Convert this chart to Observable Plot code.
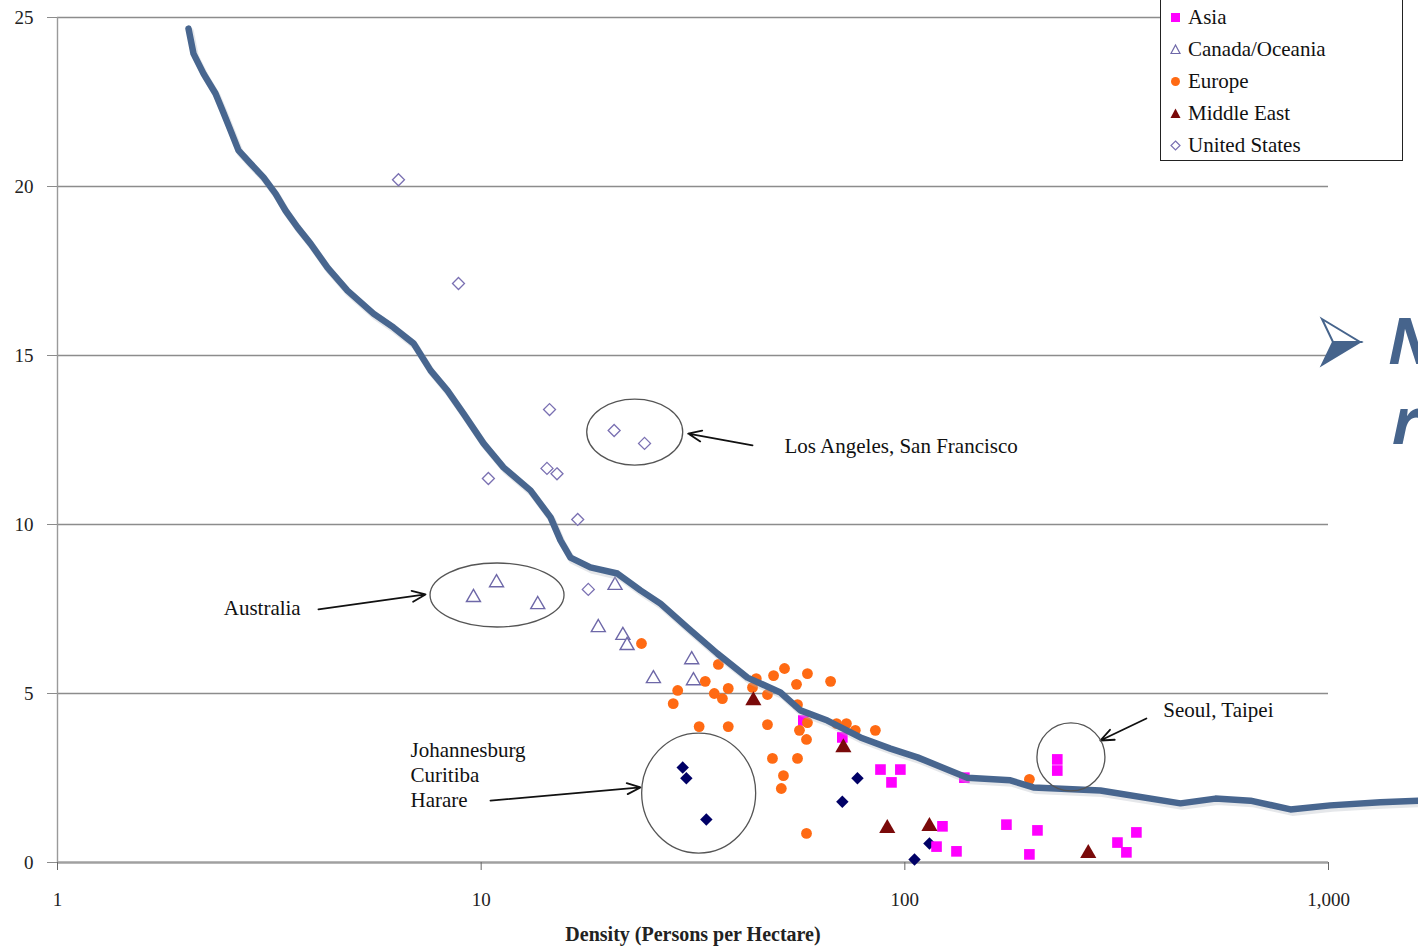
<!DOCTYPE html>
<html><head><meta charset="utf-8">
<script src="https://cdn.jsdelivr.net/npm/d3@7"></script>
<script src="https://cdn.jsdelivr.net/npm/@observablehq/plot@0.6"></script>
<style>
body{margin:0;background:#fff;overflow:hidden}
#wrap{position:relative;width:1418px;height:948px;overflow:hidden;font-family:"Liberation Serif",serif;color:#111}
#wrap > svg.chart{position:absolute;left:0;top:0}
#legend{position:absolute;left:1160px;top:-4px;width:243px;height:165px;border:1.6px solid #222;background:#fff;box-sizing:border-box;padding-top:4px}
.li{height:32px;display:flex;align-items:center;font-size:21px;padding-left:8px}
.li svg{margin-right:6px}
#wrap > svg#bullet{position:absolute;left:1318px;top:316px}
.big{position:absolute;font-family:"Open Sans","DejaVu Sans",sans-serif;font-style:italic;font-weight:700;font-size:64px;color:#46648c;line-height:60px;height:60px}
</style></head><body><div id="wrap">
<svg id="bullet" width="46" height="52" viewBox="0 0 46 52">
  <path d="M4 3 L42 26 L15 26 Z" fill="#fff" stroke="#46648c" stroke-width="2"/>
  <path d="M4 49 L42 26 L15 26 Z" fill="#46648c" stroke="#46648c" stroke-width="2"/>
</svg>
<div class="big" style="left:1388px;top:310px">N</div>
<div class="big" style="left:1392px;top:390px">r</div>
</div>
<script>
// ---- data ----
const xTicks = [1, 10, 100, 1000];
const xTickLabels = ["1", "10", "100", "1,000"];
const yTicks = [0, 5, 10, 15, 20, 25];

const seriesNames = ["Africa/Latin America", "Asia", "Canada/Oceania", "Europe", "Middle East", "United States"];

const africaX = [29.9, 30.5, 34.0, 77.3, 71.2, 114.3, 105.4];
const africaY = [2.81, 2.49, 1.27, 2.49, 1.80, 0.56, 0.09];

const asiaX = [57.6, 71.2, 87.6, 97.6, 93.0, 138.2, 229, 229, 122.7, 173.7, 205.6, 352, 317.6, 333.4, 118.8, 132.4, 196.8];
const asiaY = [4.20, 3.70, 2.75, 2.75, 2.37, 2.51, 3.05, 2.72, 1.07, 1.12, 0.95, 0.89, 0.59, 0.30, 0.47, 0.33, 0.24];

const canadaX = [9.59, 10.87, 13.6, 20.7, 18.9, 21.6, 22.1, 25.5, 31.4, 31.7];
const canadaY = [7.84, 8.28, 7.63, 8.2, 6.95, 6.72, 6.42, 5.44, 6.0, 5.38];

const europeX = [23.9, 36.3, 33.8, 29.1, 28.4, 35.5, 37.1, 38.3, 43.7, 44.6, 49.0, 52.0, 55.5, 58.9, 66.8, 47.4, 32.7, 38.3, 47.4, 56.4, 58.6, 58.9, 69.0, 72.8, 76.4, 85.2, 48.7, 55.8, 51.7, 51.1, 58.6, 196.8, 55.8];
const europeY = [6.48, 5.86, 5.36, 5.09, 4.70, 5.0, 4.85, 5.15, 5.18, 5.44, 5.53, 5.74, 5.27, 5.59, 5.36, 4.97, 4.02, 4.02, 4.08, 3.91, 3.64, 4.14, 4.11, 4.11, 3.91, 3.91, 3.08, 3.08, 2.57, 2.19, 0.86, 2.46, 4.67];

const mideastX = [43.9, 71.6, 90.9, 114.3, 271];
const mideastY = [4.79, 3.40, 1.01, 1.07, 0.27];

const usX = [6.38, 8.84, 14.5, 20.6, 24.3, 14.3, 15.1, 10.4, 16.9, 17.9];
const usY = [20.2, 17.13, 13.4, 12.78, 12.4, 11.66, 11.5, 11.36, 10.15, 8.08];

const curveX = [2.038, 2.094, 2.211, 2.360, 2.452, 2.561, 2.674, 2.855, 3.064, 3.270, 3.452, 3.686, 3.955, 4.338, 4.836, 5.569, 6.209, 6.922, 7.592, 8.327, 9.084, 10.13, 11.29, 13.07, 14.58, 15.39, 16.25, 18.11, 20.97, 23.77, 26.50, 30.69, 36.12, 42.51, 50.86, 56.69, 65.67, 78.56, 92.47, 107.1, 140.5, 177.5, 201.1, 289.4, 447.2, 540.8, 654.3, 813.2, 1010, 1326, 1630];
const curveY = [24.67, 23.93, 23.34, 22.75, 22.25, 21.66, 21.07, 20.68, 20.27, 19.79, 19.29, 18.79, 18.31, 17.60, 16.92, 16.24, 15.83, 15.36, 14.56, 13.96, 13.28, 12.40, 11.69, 11.01, 10.21, 9.53, 9.02, 8.73, 8.55, 8.05, 7.66, 6.95, 6.18, 5.47, 5.03, 4.50, 4.20, 3.70, 3.37, 3.11, 2.51, 2.43, 2.22, 2.13, 1.75, 1.89, 1.83, 1.57, 1.69, 1.78, 1.83];

// annotations (data coordinates)
const noteTexts = ["Los Angeles, San Francisco", "Australia", "Johannesburg", "Curitiba", "Harare", "Seoul, Taipei"];
const noteX = [52.0, 3.75, 6.81, 6.81, 6.81, 407.6];
const noteY = [12.31, 7.51, 3.31, 2.57, 1.83, 4.50];
const noteAnchor = ["start", "end", "start", "start", "start", "start"];

const arrowX1 = [43.7, 4.13, 10.52, 371.7];
const arrowY1 = [12.34, 7.49, 1.83, 4.26];
const arrowX2 = [30.8, 7.39, 23.77, 289.4];
const arrowY2 = [12.69, 7.93, 2.22, 3.61];

const ringX = [23.1, 10.93, 32.7, 247.3];
const ringY = [12.72, 7.90, 2.04, 3.11];
const ringRx = [48, 67, 57, 34];
const ringRy = [33, 32, 60, 34];

const legendNames = ["Asia", "Canada/Oceania", "Europe", "Middle East", "United States"];

// ---- build tables ----
const pts = (xs, ys, s) => xs.map((x, i) => ({x, y: ys[i], s}));
const africa = pts(africaX, africaY, seriesNames[0]);
const asia = pts(asiaX, asiaY, seriesNames[1]);
const canada = pts(canadaX, canadaY, seriesNames[2]);
const europe = pts(europeX, europeY, seriesNames[3]);
const mideast = pts(mideastX, mideastY, seriesNames[4]);
const us = pts(usX, usY, seriesNames[5]);
const curve = curveX.map((x, i) => ({x, y: curveY[i]}));
const notes = noteTexts.map((t, i) => ({t, x: noteX[i], y: noteY[i], a: noteAnchor[i]}));
const arrows = arrowX1.map((x, i) => ({x1: x, y1: arrowY1[i], x2: arrowX2[i], y2: arrowY2[i]}));

const C = {navy: "#000066", magenta: "#ff00ff", canada: "#6e68a8", orange: "#ff6a13", maroon: "#7a0a0a", us: "#7a70b2", line: "#48668f", grid: "#8c8c8c"};

const plot = Plot.plot({
  width: 1418, height: 948,
  marginLeft: 57, marginRight: 90, marginTop: 17, marginBottom: 86,
  style: {fontFamily: "'Liberation Serif', serif", fontSize: "19px", color: "#222", background: "transparent", overflow: "visible"},
  x: {type: "log", domain: [1, 1000]},
  y: {domain: [0, 25]},
  marks: [
    Plot.ruleY(yTicks.filter(d => d > 0), {stroke: C.grid, strokeWidth: 1.4}),
    Plot.ruleX([xTicks[0]], {stroke: "#9a9a9a", strokeWidth: 1.4}),
    Plot.ruleY([0], {stroke: "#a0a0a0", strokeWidth: 2.4}),
    Plot.axisY({ticks: yTicks, tickSize: 10, tickPadding: 14, stroke: C.grid, label: null, fontSize: 19}),
    Plot.axisX({ticks: xTicks, tickFormat: d => xTickLabels[xTicks.indexOf(d)], tickSize: 8, tickPadding: 22, stroke: "#666", label: null, fontSize: 19}),
    Plot.text(["Density (Persons per Hectare)"], {frameAnchor: "bottom", dy: 78, fontSize: 20, fontWeight: 600, fill: "#222"}),
    // data points
    Plot.dot(africa, {x: "x", y: "y", symbol: "diamond2", r: 5.6, fill: C.navy, stroke: "none"}),
    Plot.dot(asia, {x: "x", y: "y", symbol: "square", r: 6, fill: C.magenta, stroke: "none"}),
    Plot.dot(canada, {x: "x", y: "y", symbol: "triangle", r: 5.2, fill: "white", stroke: C.canada, strokeWidth: 1.4}),
    Plot.dot(europe, {x: "x", y: "y", symbol: "circle", r: 5.4, fill: C.orange, stroke: "none"}),
    Plot.dot(mideast, {x: "x", y: "y", symbol: "triangle", r: 6, fill: C.maroon, stroke: "none"}),
    Plot.dot(us, {x: "x", y: "y", symbol: "diamond2", r: 5.4, fill: "white", stroke: C.us, strokeWidth: 1.3}),
    // curve with soft shadow
    Plot.line(curve, {x: "x", y: "y", stroke: "#b4bac2", strokeOpacity: 0.35, strokeWidth: 7, dx: 2, dy: 3}),
    Plot.line(curve, {x: "x", y: "y", stroke: C.line, strokeWidth: 6.5, strokeLinejoin: "round"}),
    // annotations
    Plot.arrow(arrows, {x1: "x1", y1: "y1", x2: "x2", y2: "y2", stroke: "#111", strokeWidth: 1.8, headLength: 12, headAngle: 45}),
    Plot.text(notes.filter(d => d.a === "start"), {x: "x", y: "y", text: "t", textAnchor: "start", fontSize: 21, fill: "#111"}),
    Plot.text(notes.filter(d => d.a === "end"), {x: "x", y: "y", text: "t", textAnchor: "end", fontSize: 21, fill: "#111"})
  ]
});

const wrap = document.getElementById("wrap");
plot.classList.add("chart");
wrap.insertBefore(plot, wrap.firstChild);

// rings (ellipses) placed with the plot's scales
const sx = plot.scale("x"), sy = plot.scale("y");
const svg = d3.select(plot);
svg.append("g").selectAll("ellipse").data(ringX).join("ellipse")
  .attr("cx", (d) => sx.apply(d))
  .attr("cy", (d, i) => sy.apply(ringY[i]))
  .attr("rx", (d, i) => ringRx[i])
  .attr("ry", (d, i) => ringRy[i])
  .attr("fill", "none").attr("stroke", "#555").attr("stroke-width", 1.3);

// legend
const legend = document.createElement("div");
legend.id = "legend";
const sym = {
  "Asia": `<rect x="2" y="2" width="9" height="9" fill="${C.magenta}"/>`,
  "Canada/Oceania": `<path d="M6.5 2 L11 10.5 L2 10.5 Z" fill="white" stroke="${C.canada}" stroke-width="1.2"/>`,
  "Europe": `<circle cx="6.5" cy="6.5" r="4.5" fill="${C.orange}"/>`,
  "Middle East": `<path d="M6.5 1.5 L11.5 11 L1.5 11 Z" fill="${C.maroon}"/>`,
  "United States": `<path d="M6.5 2 L11 6.5 L6.5 11 L2 6.5 Z" fill="white" stroke="${C.us}" stroke-width="1.2"/>`
};
legendNames.forEach(n => {
  const row = document.createElement("div");
  row.className = "li";
  row.innerHTML = `<svg width="13" height="13" viewBox="0 0 13 13">${sym[n]}</svg><span>${n}</span>`;
  legend.appendChild(row);
});
wrap.appendChild(legend);
</script>
</body></html>
